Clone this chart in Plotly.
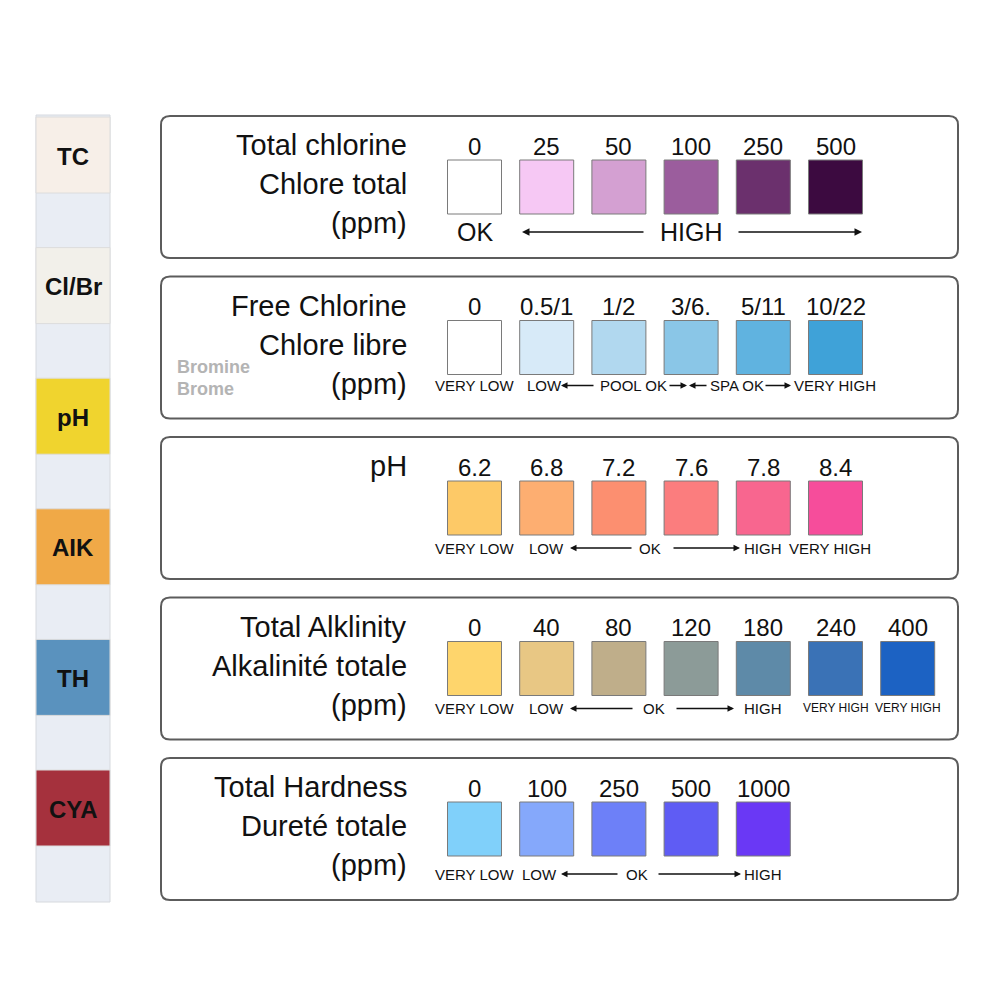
import plotly.graph_objects as go

# ---- data ----
strip_labels = ["TC", "Cl/Br", "pH", "AIK", "TH", "CYA"]
strip_colors = ["#f7efe8", "#f2f0ea", "#f0d42e", "#f0a947", "#5a92be", "#a5313d"]

panel_titles = [
    ["Total chlorine", "Chlore total", "(ppm)"],
    ["Free Chlorine", "Chlore libre", "(ppm)"],
    ["pH"],
    ["Total Alklinity", "Alkalinité totale", "(ppm)"],
    ["Total Hardness", "Dureté totale", "(ppm)"],
]

tc_values = ["0", "25", "50", "100", "250", "500"]
tc_colors = ["#ffffff", "#f6c8f4", "#d4a0d2", "#9b5d9d", "#6b306d", "#3c0a40"]

fc_values = ["0", "0.5/1", "1/2", "3/6.", "5/11", "10/22"]
fc_colors = ["#ffffff", "#d7eaf8", "#b1d8ef", "#8ac6e7", "#60b3e0", "#3fa2d8"]

ph_values = ["6.2", "6.8", "7.2", "7.6", "7.8", "8.4"]
ph_colors = ["#fdc967", "#fdae71", "#fc8f70", "#fb7d7e", "#f8668f", "#f64d9b"]

alk_values = ["0", "40", "80", "120", "180", "240", "400"]
alk_colors = ["#fed56c", "#e8c784", "#bfae8a", "#8c9b98", "#5e8aa8", "#3a72b6", "#1c62c3"]

th_values = ["0", "100", "250", "500", "1000"]
th_colors = ["#80d0fa", "#85a8fb", "#6d80f8", "#5f5cf4", "#6a38f5"]

panel_values = [tc_values, fc_values, ph_values, alk_values, th_values]
panel_colors = [tc_colors, fc_colors, ph_colors, alk_colors, th_colors]

FONT = "Liberation Sans, Arial, sans-serif"

fig = go.Figure()
shapes = []
ann = []


def text(x, y, s, size, xanchor="center", color="#111", bold=False):
    if bold:
        s = "<b>" + s + "</b>"
    ann.append(dict(x=x, y=y, text=s, showarrow=False, xanchor=xanchor, yanchor="middle",
                    font=dict(family=FONT, size=size, color=color)))


def arrow(head, tail, y, w=1.3):
    ann.append(dict(x=head, y=y, ax=tail, ay=y, axref="x", ayref="y", text="",
                    showarrow=True, arrowhead=2, arrowsize=1, arrowwidth=w, arrowcolor="#111"))


def rounded(x0, y0, x1, y1, r):
    return (f"M {x0+r},{y0} L {x1-r},{y0} Q {x1},{y0} {x1},{y0+r} L {x1},{y1-r} "
            f"Q {x1},{y1} {x1-r},{y1} L {x0+r},{y1} Q {x0},{y1} {x0},{y1-r} "
            f"L {x0},{y0+r} Q {x0},{y0} {x0+r},{y0} Z")


# ---- left test strip ----
shapes.append(dict(type="rect", x0=36, x1=110, y0=115, y1=902, fillcolor="#e9edf4",
                   line=dict(color="#d6d9de", width=1), layer="below"))
for i, (lab, col) in enumerate(zip(strip_labels, strip_colors)):
    y0 = 117 + i * 130.6
    shapes.append(dict(type="rect", x0=36, x1=110, y0=y0, y1=y0 + 76, fillcolor=col,
                       line=dict(color="#dcdcdc", width=1)))
    text(73, y0 + 39, lab, 24, bold=True)

# ---- panels ----
pitch = 72.2
cx0 = 474.5
sw = 54
for p, (titles, vals, cols) in enumerate(zip(panel_titles, panel_values, panel_colors)):
    T = 116 + p * 160.5
    shapes.append(dict(type="path", path=rounded(161, T, 958, T + 142, 9),
                       line=dict(color="#5c5c5c", width=2), fillcolor="white"))
    for k, t in enumerate(titles):
        text(409, T + 29 + k * 39, t, 29, xanchor="right")
    for i, (v, c) in enumerate(zip(vals, cols)):
        cx = cx0 + i * pitch
        text(cx, T + 30, v, 24)
        shapes.append(dict(type="rect", x0=cx - sw / 2, x1=cx + sw / 2, y0=T + 44, y1=T + 98,
                           fillcolor=c, line=dict(color="#7a7a7a", width=1)))

# panel 1 range row
y = 116 + 116
text(474.5, y, "OK", 25)
arrow(522, 645, y, 1.5)
text(691, y, "HIGH", 25)
arrow(862, 737, y, 1.5)

# panel 2 range row
T = 116 + 160.5
y = T + 109
text(474, y, "VERY LOW", 15)
text(544, y, "LOW", 15)
arrow(561, 595, y)
text(633, y, "POOL OK", 15)
arrow(687, 668, y)
arrow(689, 708, y)
text(737, y, "SPA OK", 15)
arrow(791, 764, y)
text(835, y, "VERY HIGH", 15)
text(175, T + 90, "Bromine", 18, xanchor="left", color="#b4b4b4", bold=True)
text(175, T + 112, "Brome", 18, xanchor="left", color="#b4b4b4", bold=True)

# panels 3-5 range rows: (LOW, arrow head, arrow tail, OK, arrow tail, arrow head, HIGH)
rows = {
    2: (546, 570, 633, 650, 672, 740, 763),
    3: (546, 570, 634, 654, 675, 734, 763),
    4: (539, 561, 619, 637, 657, 741, 763),
}
for p, (lo, h1, t1, ok, t2, h2, hi) in rows.items():
    T = 116 + p * 160.5
    y = T + (116 if p == 4 else 111)
    text(474, y, "VERY LOW", 15)
    text(lo, y, "LOW", 15)
    arrow(h1, t1, y)
    text(ok, y, "OK", 15)
    arrow(h2, t2, y)
    text(hi, y, "HIGH", 15)

T = 116 + 2 * 160.5
text(830, T + 111, "VERY HIGH", 15)
T = 116 + 3 * 160.5
text(cx0 + 5 * pitch, T + 110, "VERY HIGH", 12)
text(cx0 + 6 * pitch, T + 110, "VERY HIGH", 12)

# page body adds an 8px offset, so shift the axis ranges to land on screen pixels
fig.update_layout(
    width=990, height=990,
    margin=dict(l=0, r=0, t=0, b=0),
    paper_bgcolor="white", plot_bgcolor="white",
    xaxis=dict(range=[8, 998], visible=False, fixedrange=True),
    yaxis=dict(range=[998, 8], visible=False, fixedrange=True),
    shapes=shapes, annotations=ann, showlegend=False,
)
fig.write_html("out.html")
